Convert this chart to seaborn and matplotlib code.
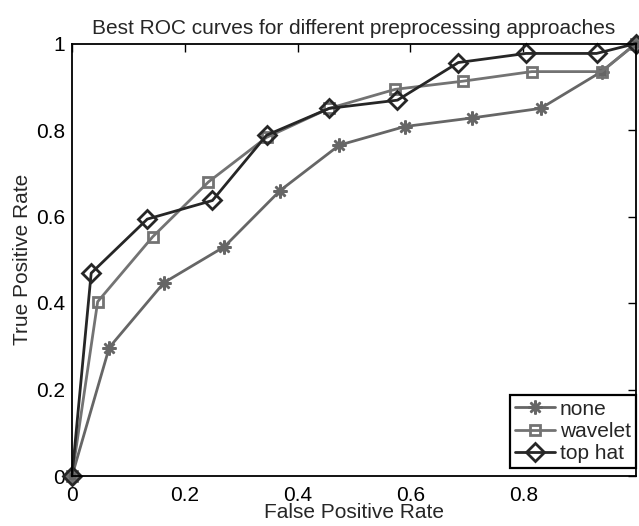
import matplotlib
matplotlib.use("Agg")
import matplotlib.pyplot as plt
import seaborn as sns
import pandas as pd

sns.set_theme(style="white")
plt.rcParams['font.family'] = ['Liberation Sans', 'DejaVu Sans']

title = "Best ROC curves for different preprocessing approaches"
series_names = ["none", "wavelet", "top hat"]

none_fpr = [0, 0.066, 0.163, 0.270, 0.369, 0.474, 0.590, 0.710, 0.831, 0.939, 1.0]
none_tpr = [0, 0.297, 0.447, 0.530, 0.660, 0.765, 0.808, 0.828, 0.850, 0.935, 1.0]
wavelet_fpr = [0, 0.0455, 0.143, 0.242, 0.345, 0.456, 0.573, 0.694, 0.815, 0.939, 1.0]
wavelet_tpr = [0, 0.403, 0.553, 0.680, 0.783, 0.850, 0.894, 0.913, 0.935, 0.935, 1.0]
tophat_fpr = [0, 0.034, 0.1335, 0.249, 0.345, 0.456, 0.577, 0.685, 0.805, 0.930, 1.0]
tophat_tpr = [0, 0.469, 0.594, 0.637, 0.788, 0.850, 0.869, 0.956, 0.977, 0.977, 1.0]

xticks = [0, 0.2, 0.4, 0.6, 0.8]
yticks = [0, 0.2, 0.4, 0.6, 0.8, 1.0]
yticklabels = ["0", "0.2", "0.4", "0.6", "0.8", "1"]
xticklabels = ["0", "0.2", "0.4", "0.6", "0.8"]

FS = 15

fig = plt.figure(figsize=(6.39, 5.26), dpi=100)
ax = fig.add_axes([72/639, 50/526, 564/639, 432.5/526])

styles = {
    "none": dict(color="#666666", marker=(8, 2, 0), ms=10, mew=1.8),
    "wavelet": dict(color="#737373", marker="s", ms=7.5, mew=2.0, mfc="none"),
    "top hat": dict(color="#262626", marker="D", ms=9, mew=2.0, mfc="none"),
}
data = {
    "none": (none_fpr, none_tpr),
    "wavelet": (wavelet_fpr, wavelet_tpr),
    "top hat": (tophat_fpr, tophat_tpr),
}
for name in series_names:
    xs, ys = data[name]
    df = pd.DataFrame({"fpr": xs, "tpr": ys})
    st = styles[name]
    sns.lineplot(data=df, x="fpr", y="tpr", ax=ax, sort=False, estimator=None,
                 color=st["color"], marker=st["marker"], markersize=st["ms"],
                 markeredgewidth=st["mew"], markeredgecolor=st["color"],
                 markerfacecolor=st.get("mfc", st["color"]), linewidth=2.0,
                 label=name, clip_on=False)

ax.set_xlim(0, 1.0)
ax.set_ylim(0, 1.0)
ax.set_xticks(xticks)
ax.set_xticklabels(xticklabels)
ax.set_yticks(yticks)
ax.set_yticklabels(yticklabels)
ax.tick_params(direction="in", top=True, right=True, length=6, width=1,
               labelsize=FS, colors="black")
ax.tick_params(axis="x", pad=7)
ax.tick_params(axis="y", pad=5)
for sp in ax.spines.values():
    sp.set_visible(True)
    sp.set_color("black")
    sp.set_linewidth(1.3)
ax.set_xlabel("False Positive Rate", fontsize=FS, labelpad=-1)
ax.set_ylabel("True Positive Rate", fontsize=FS, labelpad=3)
ax.set_title(title, fontsize=FS, pad=7)

leg = ax.legend(loc="lower right", bbox_to_anchor=(1.0, 0.018), fontsize=FS,
                frameon=True, fancybox=False, borderaxespad=0.0,
                handlelength=1.9, handletextpad=0.25,
                labelspacing=0.15, borderpad=0.25)
leg.get_frame().set_edgecolor("black")
leg.get_frame().set_linewidth(1.6)
leg.get_frame().set_alpha(1)

fig.savefig("out.png", dpi=100)
